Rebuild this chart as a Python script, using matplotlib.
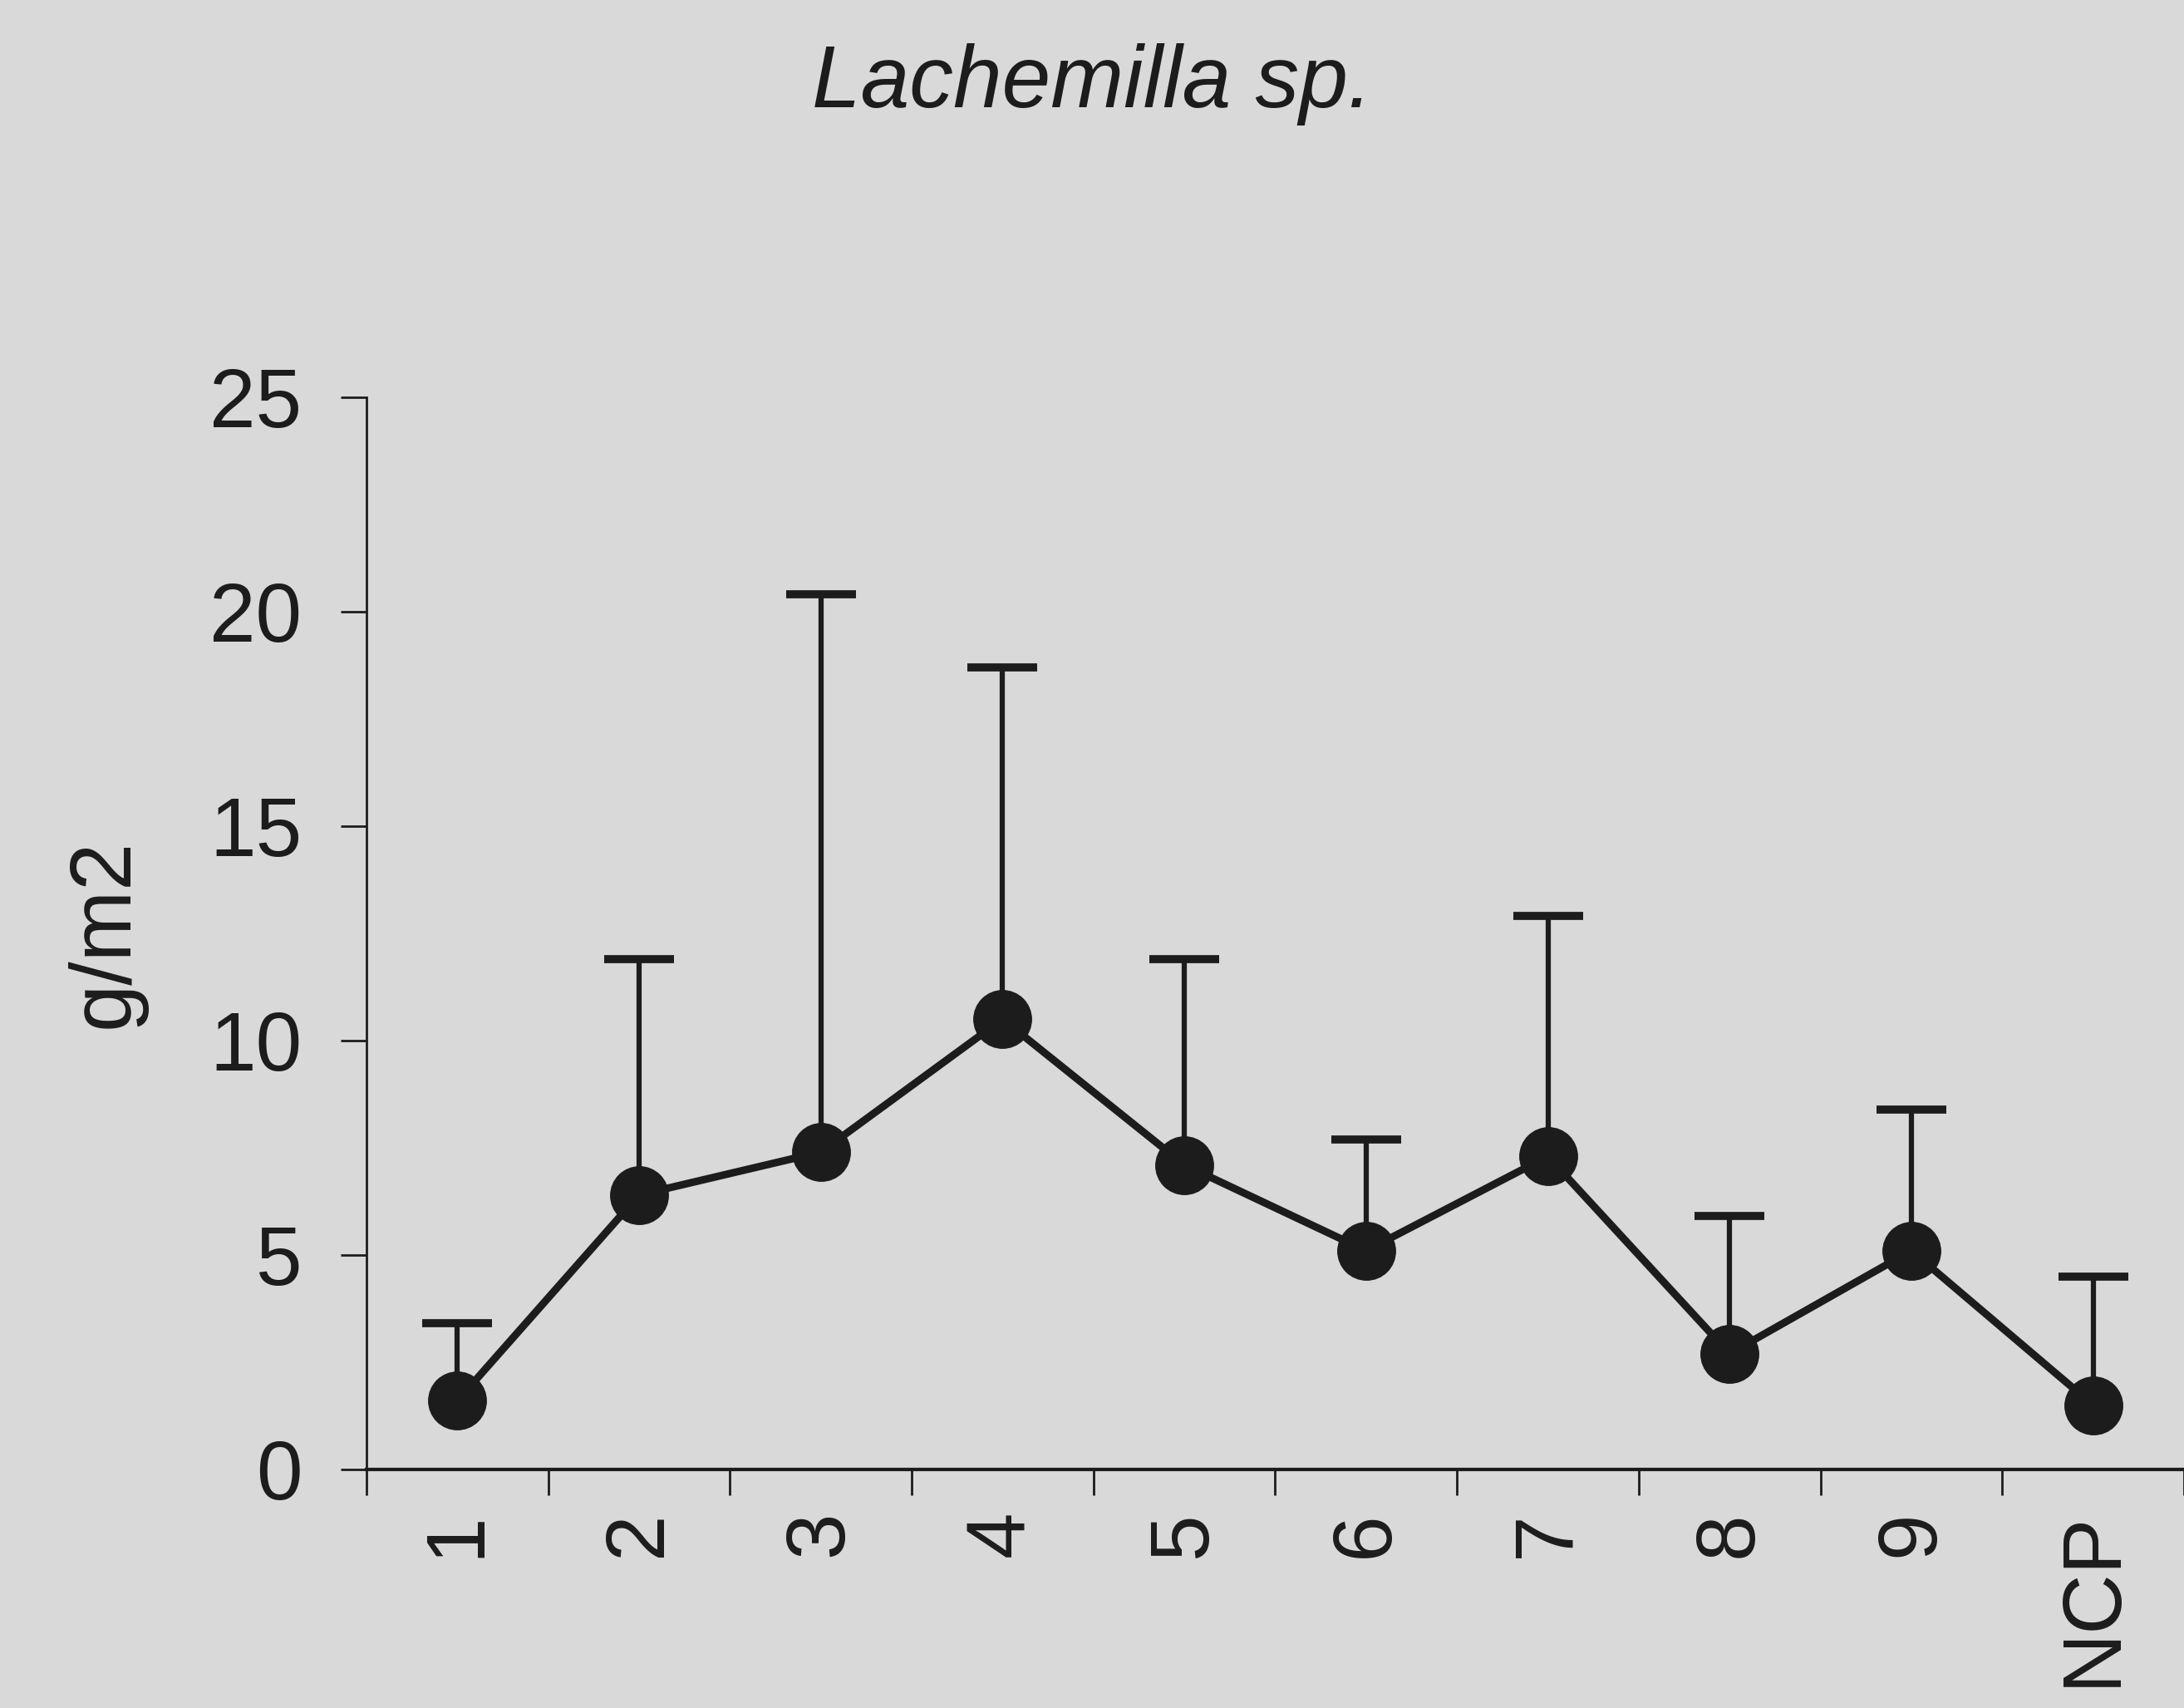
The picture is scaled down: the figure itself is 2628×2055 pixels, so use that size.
import matplotlib
matplotlib.use('Agg')
import matplotlib.pyplot as plt
import numpy as np

plt.rcParams['font.family'] = ['Liberation Sans', 'DejaVu Sans']

# sampling sites and biomass (g/m2): mean and upper end of the error bar
sites = ['1', '2', '3', '4', '5', '6', '7', '8', '9', 'NCP']
means = [1.6, 6.4, 7.4, 10.5, 7.1, 5.1, 7.3, 2.7, 5.1, 1.5]
tops = [3.4, 11.9, 20.4, 18.7, 11.9, 7.7, 12.9, 5.9, 8.4, 4.5]
yticks = [0, 5, 10, 15, 20, 25]

bg = '#d9d9d9'
ink = '#1c1c1c'

fig = plt.figure(figsize=(26.28, 20.55), dpi=100, facecolor=bg)
ax = fig.add_axes([0.1678, 0.1397, 0.8322, 0.6277], facecolor=bg)

x = np.arange(len(sites))
upper = np.array(tops) - np.array(means)
lower = np.zeros(len(sites))

# only the upper half of each error bar is drawn
eb = ax.errorbar(x, means, yerr=[lower, upper], fmt='none', ecolor=ink,
                 elinewidth=4.5, capsize=30, capthick=7, zorder=2)
eb[1][0].set_visible(False)
ax.plot(x, means, color=ink, lw=6.5, marker='o', markersize=50,
        markerfacecolor=ink, markeredgecolor=ink, zorder=3)

ax.set_xlim(-0.5, 9.32)
ax.set_ylim(0, 25)

# category labels in the middle, tick marks on the boundaries
ax.set_xticks(x)
ax.set_xticklabels(sites, rotation=90, fontsize=72, color=ink)
ax.set_xticks(np.arange(-0.5, len(sites), 1.0), minor=True)
ax.tick_params(axis='x', which='major', length=0, pad=36)
ax.tick_params(axis='x', which='minor', length=22, width=2, color=ink,
               direction='out')

ax.set_yticks(yticks)
ax.set_yticklabels([str(t) for t in yticks], fontsize=72, color=ink)
ax.tick_params(axis='y', length=22, width=2, color=ink, pad=34)

for side in ['top', 'right']:
    ax.spines[side].set_visible(False)
ax.spines['left'].set_linewidth(2)
ax.spines['left'].set_color(ink)
ax.spines['bottom'].set_linewidth(3)
ax.spines['bottom'].set_color(ink)
ax.spines['left'].set_bounds(0, 25)

ax.set_ylabel('g/m2', fontsize=74, color=ink, labelpad=55)

fig.text(0.5, 0.937, 'Lachemilla sp.', fontsize=76, style='italic',
         color=ink, ha='center', va='baseline')

fig.savefig('out.png', dpi=100, facecolor=bg)
